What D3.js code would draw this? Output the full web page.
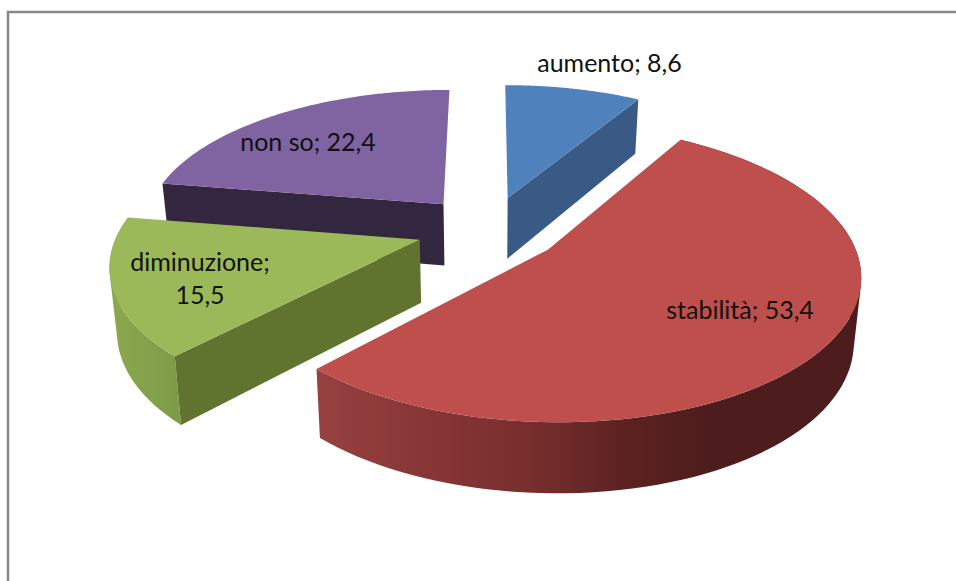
<!DOCTYPE html>
<html><head><meta charset="utf-8">
<script src="https://cdn.jsdelivr.net/npm/d3@7/dist/d3.min.js"></script>
<style>html,body{margin:0;padding:0;background:#fff}svg{display:block}text{font-family:Lato,"Open Sans",sans-serif;fill:#111;font-size:25px}</style>
</head><body><script>
const categories = ["aumento","stabilità","diminuzione","non so"];
const values = [8.6,53.4,15.5,22.4];
const valueLabels = ["8,6","53,4","15,5","22,4"];
const topColors = ["#4f81bd","#be4f4c","#9bb958","#8064a2"];
const faceColors = ["#385a84","#7f3331","#60732f","#33273f"];
const W=956,H=581;
const svg=d3.select("body").append("svg").attr("width",W).attr("height",H);
svg.append("path").attr("d",`M${W},12H8V${H}`).attr("fill","none").attr("stroke","#888").attr("stroke-width",2.5);

// perspective projection of the tilted disc
const cx=489, cy=229, R=301, Rv=139, p=0.154, e=0.24, shrink=0.98;
const xS=d3.scaleLinear().domain([0,1]).range([0,R]);
const yS=d3.scaleLinear().domain([0,1]).range([0,Rv]);
const zS=d3.scaleLinear().domain([-1,1]).range([55,70]);
function proj(u,v,drop){const w=1/(1-p*v);
  return [cx+xS(u*w)*(drop?shrink:1),cy+yS(v*w)+(drop?zS(v):0)];}
const arcs=d3.pie().sort(null).value(d=>d)(values);
const slices=arcs.map((a,i)=>{
  const mid=(a.startAngle+a.endAngle)/2;
  const ox=e*Math.sin(mid), oy=-e*Math.cos(mid);
  const pt=(ang,r,drop)=>proj(ox+r*Math.sin(ang),oy-r*Math.cos(ang),drop);
  const n=90;
  const rim=d3.range(n+1).map(k=>a.startAngle+(a.endAngle-a.startAngle)*k/n);
  return {i,a,pt,rim};
});
const line=d3.line();
const defs=svg.append("defs");
function grad(id,stops,x1,x2){const g=defs.append("linearGradient").attr("id",id).attr("gradientUnits","userSpaceOnUse").attr("x1",x1).attr("x2",x2).attr("y1",0).attr("y2",0);
  stops.forEach(s=>g.append("stop").attr("offset",s[0]).attr("stop-color",s[1]));return `url(#${id})`;}
const redSide=grad("rs",[[0,"#974141"],[.2,"#873635"],[.4,"#762e2d"],[.55,"#5e2322"],[.72,"#4c1d1c"],[1,"#4c1d1c"]],320,860);
const greenSide=grad("gs",[[0,"#8ca94f"],[1,"#7d9a47"]],108,182);

function drawFace(s,ang){ // radial wall along one cut edge
  const A=s.pt(ang,0,false),B=s.pt(ang,1,false),C=s.pt(ang,1,true),D=s.pt(ang,0,true);
  svg.append("path").attr("d",line([A,B,C,D])+"Z").attr("fill",faceColors[s.i]);
}
function drawOuter(s,fill){ // curved wall: one path of equally wound quads, so no seams
  const d=d3.pairs(s.rim).map(([t0,t1])=>{
    const q=[s.pt(t0,1,false),s.pt(t1,1,false),s.pt(t1,1,true),s.pt(t0,1,true)];
    if(d3.polygonArea(q)<0) q.reverse();
    return line(q)+"Z";
  }).join("");
  svg.append("path").attr("d",d).attr("fill",fill).attr("fill-rule","nonzero");
}
function drawTop(s){
  const pts=[s.pt(0,0,false)].concat(s.rim.map(t=>s.pt(t,1,false)));
  svg.append("path").attr("d",line(pts)+"Z").attr("fill",topColors[s.i]);
}
// painter's order, far slices first
const [blue,red,green,purple]=slices;
drawFace(purple,purple.a.startAngle); drawTop(purple);
drawFace(blue,blue.a.endAngle); drawTop(blue);
drawOuter(green,greenSide);
drawFace(green,green.a.startAngle); drawTop(green);
drawOuter(red,redSide); drawTop(red);

const labels=[
 {i:0,lines:[`${categories[0]}; ${valueLabels[0]}`],x:609.5,y:72},
 {i:1,lines:[`${categories[1]}; ${valueLabels[1]}`],x:740,y:319},
 {i:2,lines:[`${categories[2]};`,valueLabels[2]],x:200,y:271},
 {i:3,lines:[`${categories[3]}; ${valueLabels[3]}`],x:308,y:151}
];
labels.forEach(l=>{const t=svg.append("text").attr("text-anchor","middle");
  l.lines.forEach((s,k)=>t.append("tspan").attr("x",l.x).attr("y",l.y+k*33).text(s));});
</script></body></html>
